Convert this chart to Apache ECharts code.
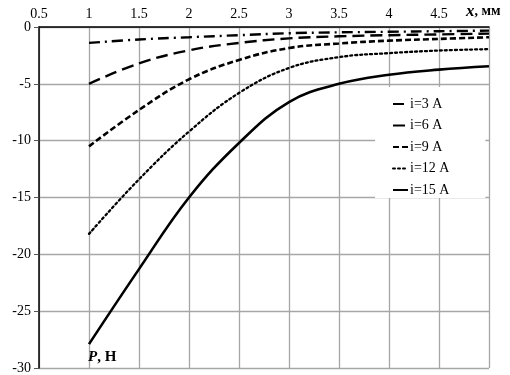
<!DOCTYPE html>
<html>
<head>
<meta charset="utf-8">
<script src="https://cdn.jsdelivr.net/npm/echarts@6/dist/echarts.min.js"></script>
<style>html,body{margin:0;padding:0;background:#fff}#c{width:510px;height:375px}</style>
</head>
<body>
<div id="c"></div>
<script>
const xValues = [1, 1.5, 2, 2.5, 3, 3.5, 4, 4.5, 5];
const i3 = [-1.4, -1.1, -0.9, -0.72, -0.55, -0.47, -0.42, -0.37, -0.32];
const i6 = [-5.0, -3.2, -2.05, -1.4, -1.0, -0.82, -0.72, -0.65, -0.58];
const i9 = [-10.5, -7.3, -4.6, -2.9, -1.85, -1.45, -1.2, -1.05, -0.9];
const i12 = [-18.2, -13.4, -9.2, -5.8, -3.6, -2.65, -2.3, -2.07, -1.95];
const i15 = [-27.9, -21.3, -15.0, -10.2, -6.6, -5.0, -4.2, -3.75, -3.45];
const seriesNames = ['i=3 A', 'i=6 A', 'i=9 A', 'i=12 A', 'i=15 A'];
const xTickLabels = ['0.5', '1', '1.5', '2', '2.5', '3', '3.5', '4', '4.5'];
const yTickLabels = ['0', '-5', '-10', '-15', '-20', '-25', '-30'];

const FONT = '"Liberation Serif", "Times New Roman", serif';
const allData = [i3, i6, i9, i12, i15];
const dashes = [[11, 5, 2, 5], [12, 6], [6, 3], [2, 3], 'solid'];
const widths = [2.4, 2.4, 2.6, 2.3, 2.6];

const chart = echarts.init(document.getElementById('c'), null, {renderer: 'canvas'});
chart.setOption({
  animation: false,
  backgroundColor: '#fff',
  grid: {left: 39, right: 21, top: 27, bottom: 5, containLabel: false},
  xAxis: {
    type: 'value', position: 'top', min: 0.5, max: 5, interval: 0.5,
    axisLine: {show: true, onZero: false, lineStyle: {color: '#000', width: 1.5}},
    axisTick: {show: false},
    axisLabel: {
      color: '#000', fontFamily: FONT, fontSize: 14, margin: 6,
      formatter: v => { const s = String(v); return xTickLabels.indexOf(s) >= 0 ? s : ''; }
    },
    splitLine: {show: true, lineStyle: {color: '#a6a6a6', width: 1.3}}
  },
  yAxis: {
    type: 'value', min: -30, max: 0, interval: 5,
    axisLine: {show: true, onZero: false, lineStyle: {color: '#000', width: 1.5}},
    axisTick: {show: true, length: 5, lineStyle: {color: '#555'}},
    axisLabel: {
      color: '#000', fontFamily: FONT, fontSize: 14, margin: 8,
      formatter: v => { const s = String(v); return yTickLabels.indexOf(s) >= 0 ? s : ''; }
    },
    splitLine: {show: true, lineStyle: {color: '#a6a6a6', width: 1.3}}
  },
  legend: {
    orient: 'vertical', left: 375, top: 87,
    itemWidth: 15, itemHeight: 14, itemGap: 7.5,
    padding: [10, 36, 1, 17],
    backgroundColor: '#fff',
    itemStyle: {opacity: 0, color: 'rgba(0,0,0,0)', borderWidth: 0},
    textStyle: {fontFamily: FONT, fontSize: 14, color: '#000', padding: [0, 0, 0, -3]},
    data: seriesNames
  },
  series: seriesNames.map((n, k) => ({
    name: n, type: 'line', smooth: 0.4, showSymbol: false, symbol: 'none',
    data: xValues.map((x, j) => [x, allData[k][j]]),
    lineStyle: {color: '#000', width: widths[k], type: dashes[k], cap: k === 3 ? 'round' : 'butt'},
    itemStyle: {color: '#000'},
    z: 3
  })),
  graphic: [
    {type: 'text', left: 466, top: 3, z: 10, style: {
      text: '{i|x}{b|, мм}', fill: '#000',
      rich: {i: {fontFamily: FONT, fontSize: 17, fontWeight: 'bold', fontStyle: 'italic'},
             b: {fontFamily: FONT, fontSize: 14, fontWeight: 'bold'}}
    }},
    {type: 'text', left: 88, top: 350, z: 10, style: {
      text: '{i|P}{b|, Н}', fill: '#000',
      rich: {i: {fontFamily: FONT, fontSize: 15, fontWeight: 'bold', fontStyle: 'italic'},
             b: {fontFamily: FONT, fontSize: 15, fontWeight: 'bold'}}
    }}
  ]
});
</script>
</body>
</html>
